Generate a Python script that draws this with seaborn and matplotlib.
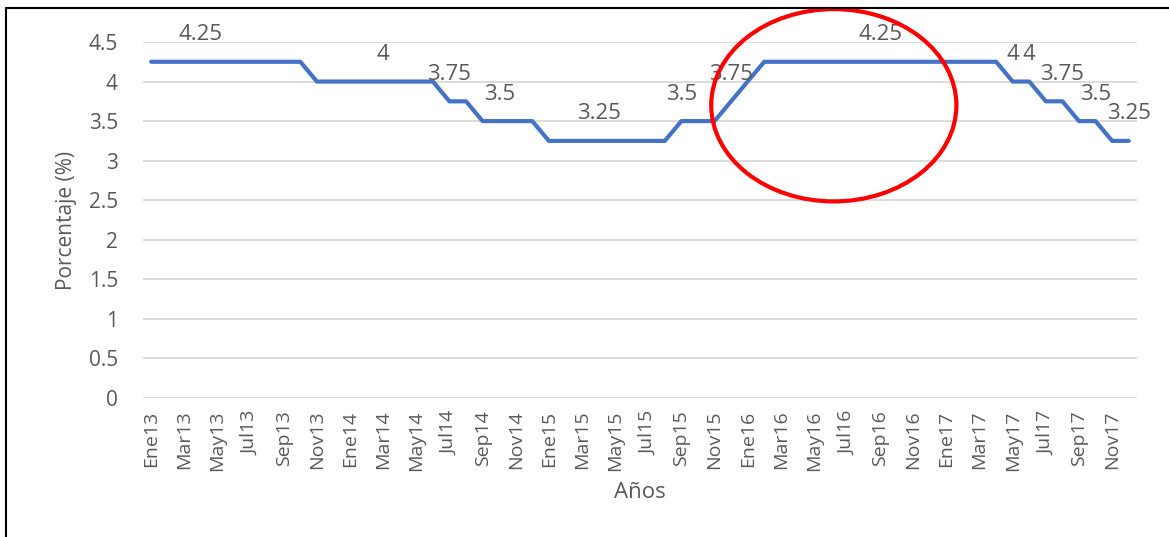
import matplotlib
matplotlib.use("Agg")
import matplotlib.pyplot as plt
from matplotlib.patches import Ellipse
from matplotlib.lines import Line2D
import seaborn as sns
import pandas as pd

# tasa mensual, Ene13 .. Dic17
meses = ["Ene", "Feb", "Mar", "Abr", "May", "Jun",
         "Jul", "Ago", "Sep", "Oct", "Nov", "Dic"]
anios = ["13", "14", "15", "16", "17"]
tasa = ([4.25] * 10 + [4.0] * 8 + [3.75] * 2 + [3.5] * 4 + [3.25] * 8 +
        [3.5] * 3 + [3.75] + [4.0] + [4.25] * 15 + [4.0] * 2 + [3.75] * 2 +
        [3.5] * 2 + [3.25] * 2)

# etiquetas de datos: (indice del mes, texto)
etiq_idx = [3, 14, 18, 21, 27, 32, 35, 44, 52, 53, 55, 57, 59]
etiq_txt = ["4.25", "4", "3.75", "3.5", "3.25", "3.5", "3.75", "4.25",
            "4", "4", "3.75", "3.5", "3.25"]

periodos = [m + a for a in anios for m in meses]
df = pd.DataFrame({"mes": range(len(tasa)), "tasa": tasa})

sns.set_style("white")
plt.rcParams["font.family"] = ["Open Sans", "DejaVu Sans"]
gris = "#595959"

fig = plt.figure(figsize=(11.69, 5.37), dpi=100)
ax = fig.add_axes([0.1223, 0.2588, 0.8503, 0.663])

sns.lineplot(data=df, x="mes", y="tasa", ax=ax, color="#4472C4",
             linewidth=3, zorder=3)

ax.set_xlim(-0.5, len(tasa) - 0.5)
ax.set_ylim(0, 4.5)
ax.set_yticks([i * 0.5 for i in range(10)])
ax.set_yticklabels(["0", "0.5", "1", "1.5", "2", "2.5", "3", "3.5", "4", "4.5"])
ax.set_xticks(range(0, len(tasa), 2))
ax.set_xticklabels(periodos[::2], rotation=90)
ax.tick_params(axis="y", length=0, pad=18, labelsize=15, labelcolor=gris)
ax.tick_params(axis="x", length=0, pad=9, labelsize=14, labelcolor=gris)
ax.grid(axis="y", color="#d9d9d9", linewidth=1.3)
ax.grid(axis="x", visible=False)
for s in ax.spines.values():
    s.set_visible(False)

ax.set_ylabel("Porcentaje (%)", fontsize=15, color=gris, labelpad=8)
ax.set_xlabel("Años", fontsize=16, color=gris, labelpad=8)

for i, t in zip(etiq_idx, etiq_txt):
    ax.annotate(t, (i, tasa[i]), xytext=(0, 19.5), textcoords="offset points",
                ha="center", va="center", fontsize=16, color=gris)

# circulo rojo de resalte
ax.add_patch(Ellipse((41.2, 3.7), 14.8, 2.43, fill=False, edgecolor="#ff0000",
                     linewidth=3, clip_on=False, zorder=4))

# borde de la captura
fig.add_artist(Line2D([0.005, 1], [0.985, 0.985], color="black", linewidth=1.5))
fig.add_artist(Line2D([0.005, 0.005], [0, 0.985], color="black", linewidth=1.5))

fig.savefig("out.png", dpi=100, facecolor="white")
